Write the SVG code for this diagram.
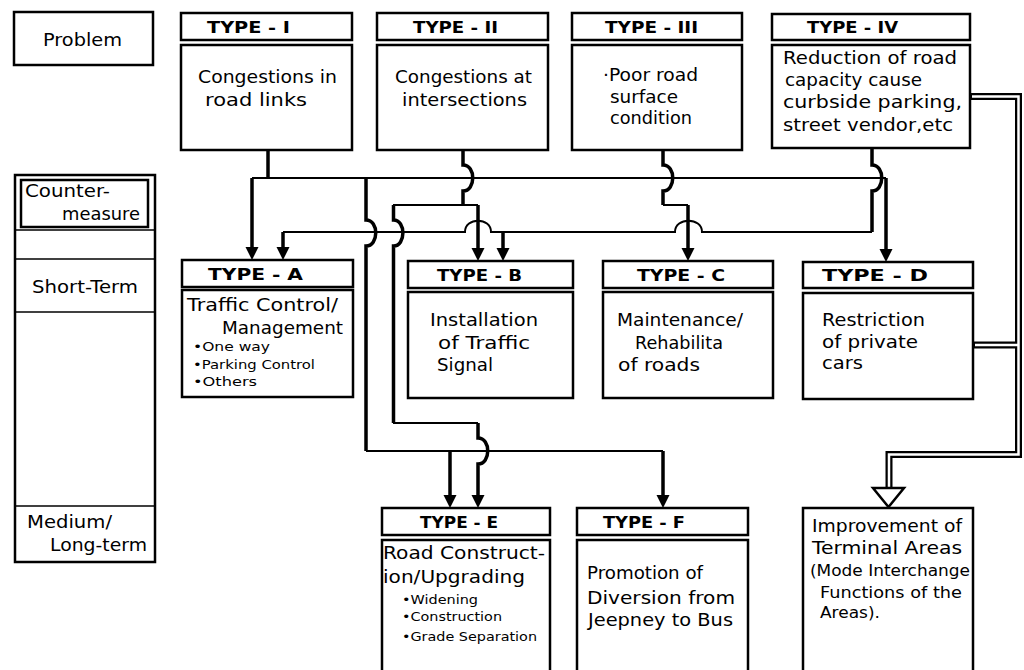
<svg xmlns="http://www.w3.org/2000/svg" width="1024" height="670" viewBox="0 0 1024 670">
<style>
.bx{fill:#fff;stroke:#000;stroke-width:2.5}
.t{font-family:"DejaVu Sans",sans-serif;font-size:17px;fill:#000}
.s{font-family:"DejaVu Sans",sans-serif;font-size:12px;fill:#000}
.m{font-family:"DejaVu Sans",sans-serif;font-size:15px;fill:#000}
.hd{font-family:"DejaVu Sans",sans-serif;font-size:16px;font-weight:bold;fill:#000}
.v{fill:none;stroke:#000;stroke-width:3.5}
.h{fill:none;stroke:#000;stroke-width:2}
.dl{fill:none;stroke:#000;stroke-width:7}
.dw{fill:none;stroke:#fff;stroke-width:2.5}
.ln{stroke:#000;stroke-width:1.5}
</style>
<defs>
<path id="ah" d="M-6.5,-13 L6.5,-13 L0,0 Z" fill="#000"/>
</defs>
<rect width="1024" height="670" fill="#fff"/>

<g id="connectors">
<!-- from TYPE-I -->
<path class="v" d="M268,150 V178"/>
<path class="h" d="M252,178 H886"/>
<path class="v" d="M252,178 V247"/>
<path class="v" d="M366,178 V220 C379,220 379,246 366,246 V451"/>
<path class="h" d="M366,451 H663"/>
<path class="v" d="M450,451 V495"/>
<path class="v" d="M663,451 V495"/>
<path class="v" d="M886,178 V249"/>
<!-- from TYPE-II -->
<path class="v" d="M463,150 V165 C476,165 476,191 463,191 V205"/>
<path class="h" d="M393,205 H478"/>
<path class="v" d="M478,205 V248"/>
<path class="v" d="M393.5,205 V220 C406,220 406,246 393.5,246 V423"/>
<path class="h" d="M393,423 H478"/>
<path class="v" d="M478,423 V438 C491,438 491,464 478,464 V495"/>
<!-- from TYPE-III -->
<path class="v" d="M663,150 V165 C676,165 676,191 663,191 V205"/>
<path class="h" d="M663,205 H688"/>
<path class="v" d="M688,205 V248"/>
<!-- from TYPE-IV -->
<path class="v" d="M872,148 V165 C885,165 885,191 872,191 V232"/>
<path class="h" d="M872,232 H702 C702,217 675,217 675,232 H491 C491,217 465,217 465,232 H283"/>
<path class="v" d="M283,232 V247"/>
<path class="v" d="M503,232 V248"/>
<use href="#ah" x="252" y="260"/>
<use href="#ah" x="283" y="260"/>
<use href="#ah" x="478" y="261"/>
<use href="#ah" x="503" y="261"/>
<use href="#ah" x="688" y="261"/>
<use href="#ah" x="886" y="262"/>
<use href="#ah" x="450" y="508"/>
<use href="#ah" x="478" y="508"/>
<use href="#ah" x="663" y="508"/>
<!-- double line to terminal areas -->
<path class="dl" d="M971,96.5 H1018.5 V454.5 H889 V488"/>
<path class="dl" d="M974,345 H1018.5"/>
<path class="dw" d="M972,96.5 H1018.5 V454.5 H889 V489"/>
<path class="dw" d="M975,345 H1018.5"/>
<polygon points="873,488 904,488 888.5,507" fill="#fff" stroke="#000" stroke-width="2.5" stroke-linejoin="miter"/>
</g>

<g id="n-problem">
<rect class="bx" x="14" y="12" width="139" height="53" stroke-width="3"/>
<text class="t" x="43" y="46" textLength="79" lengthAdjust="spacingAndGlyphs">Problem</text>
</g>

<g id="n-legend">
<rect class="bx" x="15" y="175" width="140" height="387" stroke-width="3"/>
<rect class="bx" x="21" y="180" width="127" height="47" stroke-width="2"/>
<line class="ln" x1="15" y1="230" x2="155" y2="230"/>
<line class="ln" x1="15" y1="259" x2="155" y2="259"/>
<line class="ln" x1="15" y1="312" x2="155" y2="312"/>
<line class="ln" x1="15" y1="506" x2="155" y2="506"/>
<text class="t" x="25" y="197" textLength="85" lengthAdjust="spacingAndGlyphs">Counter-</text>
<text class="t" x="62" y="220" textLength="78" lengthAdjust="spacingAndGlyphs">measure</text>
<text class="t" x="32" y="293" textLength="106" lengthAdjust="spacingAndGlyphs">Short-Term</text>
<text class="t" x="27" y="528" textLength="85" lengthAdjust="spacingAndGlyphs">Medium/</text>
<text class="t" x="50" y="551" textLength="97" lengthAdjust="spacingAndGlyphs">Long-term</text>
</g>

<g id="n-type1">
<rect class="bx" x="181" y="13" width="171" height="27"/>
<rect class="bx" x="181" y="45" width="171" height="105"/>
<text class="hd" x="207" y="33" textLength="83" lengthAdjust="spacingAndGlyphs">TYPE - I</text>
<text class="t" x="198" y="83" textLength="139" lengthAdjust="spacingAndGlyphs">Congestions in</text>
<text class="t" x="205" y="106" textLength="102" lengthAdjust="spacingAndGlyphs">road links</text>
</g>

<g id="n-type2">
<rect class="bx" x="377" y="13" width="171" height="27"/>
<rect class="bx" x="377" y="45" width="171" height="105"/>
<text class="hd" x="413" y="33" textLength="85" lengthAdjust="spacingAndGlyphs">TYPE - II</text>
<text class="t" x="395" y="83" textLength="137" lengthAdjust="spacingAndGlyphs">Congestions at</text>
<text class="t" x="402" y="106" textLength="125" lengthAdjust="spacingAndGlyphs">intersections</text>
</g>

<g id="n-type3">
<rect class="bx" x="572" y="13" width="170" height="27"/>
<rect class="bx" x="572" y="45" width="170" height="105"/>
<text class="hd" x="605" y="33" textLength="93" lengthAdjust="spacingAndGlyphs">TYPE - III</text>
<text class="t" x="603" y="81" textLength="95" lengthAdjust="spacingAndGlyphs">·Poor road</text>
<text class="t" x="610" y="103" textLength="68" lengthAdjust="spacingAndGlyphs">surface</text>
<text class="t" x="610" y="124" textLength="82" lengthAdjust="spacingAndGlyphs">condition</text>
</g>

<g id="n-type4">
<rect class="bx" x="772" y="14" width="198" height="26"/>
<rect class="bx" x="772" y="45" width="198" height="103"/>
<text class="hd" x="807" y="33" textLength="91" lengthAdjust="spacingAndGlyphs">TYPE - IV</text>
<text class="t" x="783" y="64" textLength="174" lengthAdjust="spacingAndGlyphs">Reduction of road</text>
<text class="t" x="785" y="86" textLength="137" lengthAdjust="spacingAndGlyphs">capacity cause</text>
<text class="t" x="783" y="108" textLength="179" lengthAdjust="spacingAndGlyphs">curbside parking,</text>
<text class="t" x="783" y="131" textLength="170" lengthAdjust="spacingAndGlyphs">street vendor,etc</text>
</g>

<g id="n-typeA">
<rect class="bx" x="182" y="260" width="171" height="27"/>
<rect class="bx" x="182" y="290" width="171" height="107"/>
<text class="hd" x="208" y="280" textLength="95" lengthAdjust="spacingAndGlyphs">TYPE - A</text>
<text class="t" x="187" y="311" textLength="151" lengthAdjust="spacingAndGlyphs">Traffic Control/</text>
<text class="t" x="222" y="334" textLength="121" lengthAdjust="spacingAndGlyphs">Management</text>
<text class="s" x="193" y="351" textLength="77" lengthAdjust="spacingAndGlyphs">•One way</text>
<text class="s" x="193" y="369" textLength="122" lengthAdjust="spacingAndGlyphs">•Parking Control</text>
<text class="s" x="193" y="386" textLength="64" lengthAdjust="spacingAndGlyphs">•Others</text>
</g>

<g id="n-typeB">
<rect class="bx" x="408" y="261" width="165" height="27"/>
<rect class="bx" x="408" y="292" width="165" height="106"/>
<text class="hd" x="437" y="281" textLength="85" lengthAdjust="spacingAndGlyphs">TYPE - B</text>
<text class="t" x="430" y="326" textLength="108" lengthAdjust="spacingAndGlyphs">Installation</text>
<text class="t" x="438" y="349" textLength="92" lengthAdjust="spacingAndGlyphs">of Traffic</text>
<text class="t" x="437" y="371" textLength="56" lengthAdjust="spacingAndGlyphs">Signal</text>
</g>

<g id="n-typeC">
<rect class="bx" x="603" y="261" width="170" height="27"/>
<rect class="bx" x="603" y="292" width="170" height="106"/>
<text class="hd" x="637" y="281" textLength="88" lengthAdjust="spacingAndGlyphs">TYPE - C</text>
<text class="t" x="617" y="326" textLength="126" lengthAdjust="spacingAndGlyphs">Maintenance/</text>
<text class="t" x="635" y="349" textLength="88" lengthAdjust="spacingAndGlyphs">Rehabilita</text>
<text class="t" x="618" y="371" textLength="82" lengthAdjust="spacingAndGlyphs">of roads</text>
</g>

<g id="n-typeD">
<rect class="bx" x="803" y="262" width="170" height="26"/>
<rect class="bx" x="803" y="293" width="170" height="106"/>
<text class="hd" x="822" y="281" textLength="106" lengthAdjust="spacingAndGlyphs">TYPE - D</text>
<text class="t" x="822" y="326" textLength="103" lengthAdjust="spacingAndGlyphs">Restriction</text>
<text class="t" x="822" y="348" textLength="96" lengthAdjust="spacingAndGlyphs">of private</text>
<text class="t" x="822" y="369" textLength="41" lengthAdjust="spacingAndGlyphs">cars</text>
</g>

<g id="n-typeE">
<rect class="bx" x="382" y="508" width="168" height="27"/>
<rect class="bx" x="382" y="540" width="168" height="140"/>
<text class="hd" x="420" y="528" textLength="78" lengthAdjust="spacingAndGlyphs">TYPE - E</text>
<text class="t" x="383" y="559" textLength="162" lengthAdjust="spacingAndGlyphs">Road Construct-</text>
<text class="t" x="383" y="583" textLength="142" lengthAdjust="spacingAndGlyphs">ion/Upgrading</text>
<text class="s" x="402" y="604" textLength="76" lengthAdjust="spacingAndGlyphs">•Widening</text>
<text class="s" x="402" y="621" textLength="100" lengthAdjust="spacingAndGlyphs">•Construction</text>
<text class="s" x="402" y="641" textLength="135" lengthAdjust="spacingAndGlyphs">•Grade Separation</text>
</g>

<g id="n-typeF">
<rect class="bx" x="577" y="508" width="171" height="27"/>
<rect class="bx" x="577" y="540" width="171" height="140"/>
<text class="hd" x="603" y="528" textLength="82" lengthAdjust="spacingAndGlyphs">TYPE - F</text>
<text class="t" x="587" y="579" textLength="116" lengthAdjust="spacingAndGlyphs">Promotion of</text>
<text class="t" x="587" y="604" textLength="148" lengthAdjust="spacingAndGlyphs">Diversion from</text>
<text class="t" x="588" y="626" textLength="145" lengthAdjust="spacingAndGlyphs">Jeepney to Bus</text>
</g>

<g id="n-terminal">
<rect class="bx" x="803" y="508" width="170" height="172"/>
<text class="t" x="812" y="532" textLength="150" lengthAdjust="spacingAndGlyphs">Improvement of</text>
<text class="t" x="812" y="554" textLength="150" lengthAdjust="spacingAndGlyphs">Terminal Areas</text>
<text class="m" x="810" y="576" textLength="160" lengthAdjust="spacingAndGlyphs">(Mode Interchange</text>
<text class="m" x="820" y="598" textLength="142" lengthAdjust="spacingAndGlyphs">Functions of the</text>
<text class="m" x="820" y="618" textLength="60" lengthAdjust="spacingAndGlyphs">Areas).</text>
</g>
</svg>
